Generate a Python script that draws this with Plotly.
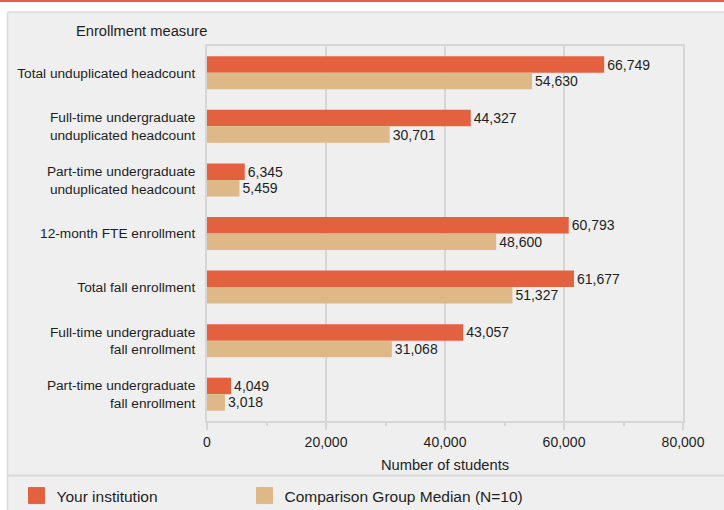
import plotly.graph_objects as go

categories = [
    "Total unduplicated headcount",
    "Full-time undergraduate<br>unduplicated headcount",
    "Part-time undergraduate<br>unduplicated headcount",
    "12-month FTE enrollment",
    "Total fall enrollment",
    "Full-time undergraduate<br>fall enrollment",
    "Part-time undergraduate<br>fall enrollment",
]
your_institution = [66749, 44327, 6345, 60793, 61677, 43057, 4049]
comparison_median = [54630, 30701, 5459, 48600, 51327, 31068, 3018]
series_names = ["Your institution", "Comparison Group Median (N=10)"]
tick_values = [0, 20000, 40000, 60000, 80000]
tick_labels = ["0", "20,000", "40,000", "60,000", "80,000"]

ORANGE = "#E4613F"
TAN = "#DFB887"
BG = "#EFEFEF"
GRID = "#D6D6D6"
TXT = "#1E1E1E"
FONT = "Liberation Sans, Arial, sans-serif"

W, H = 724, 510
L, R, T, B = 207, 41, 46, 89
pw, ph = W - L - R, H - T - B


def px_x(px):
    return (px - L) / pw


def px_y(py):
    return (H - B - py) / ph


fig = go.Figure()
colors = [ORANGE, TAN]
for name, vals, col in [(series_names[0], your_institution, ORANGE),
                        (series_names[1], comparison_median, TAN)]:
    fig.add_trace(go.Bar(
        y=categories, x=vals, name=name, orientation="h",
        marker=dict(color=col, line=dict(width=0)),
        texttemplate="%{x:,}", textposition="outside",
        textfont=dict(size=14, color=TXT, family=FONT),
        cliponaxis=False, showlegend=False,
    ))

# legend entries (square swatches)
for i, (name, col) in enumerate(zip(series_names, colors)):
    fig.add_trace(go.Scatter(
        x=[None], y=[None], mode="markers", name=name,
        marker=dict(symbol="square", size=16, color=col, line=dict(color=col, width=1)),
        legend="legend" if i == 0 else "legend2", hoverinfo="skip",
    ))

legend_common = dict(orientation="h", xanchor="left", yanchor="middle",
                     font=dict(size=15.5, color=TXT, family=FONT),
                     bgcolor="rgba(0,0,0,0)", borderwidth=0)

fig.update_layout(
    width=W, height=H,
    margin=dict(l=L, r=R, t=T, b=B, autoexpand=False),
    paper_bgcolor=BG, plot_bgcolor=BG,
    font=dict(family=FONT, size=14, color=TXT),
    barmode="group", bargap=0.384, bargroupgap=0,
    showlegend=True,
    legend=dict(x=px_x(16.5), y=px_y(496), **legend_common),
    legend2=dict(x=px_x(244.5), y=px_y(496), **legend_common),
    xaxis=dict(range=[0, 80000], tickvals=tick_values, ticktext=tick_labels,
               showgrid=True, gridcolor=GRID, gridwidth=2,
               showline=True, linecolor=GRID, linewidth=2, mirror=True,
               ticks="outside", ticklen=7, tickwidth=2, tickcolor=GRID,
               minor=dict(dtick=10000, tick0=0, ticks="outside", ticklen=3, tickwidth=2, tickcolor=GRID, showgrid=False),
               tickfont=dict(size=14, color=TXT),
               title=dict(text="Number of students", font=dict(size=14.7, color=TXT), standoff=11),
               zeroline=False, fixedrange=True, automargin=False),
    yaxis=dict(autorange="reversed", showgrid=False, showline=True, linecolor=GRID, linewidth=2, mirror=True,
               ticks="", ticklabelstandoff=7, tickfont=dict(size=13.7, color=TXT), fixedrange=True,
               automargin=False),
    annotations=[dict(text="Enrollment measure", x=px_x(74), y=px_y(31), xref="paper", yref="paper",
                      xanchor="left", yanchor="middle", showarrow=False,
                      font=dict(size=14.7, color=TXT))],
    shapes=[
        dict(type="rect", xref="paper", yref="paper", x0=px_x(0), x1=px_x(W), y0=px_y(12), y1=px_y(0),
             fillcolor="white", line=dict(width=0), layer="below"),
        dict(type="rect", xref="paper", yref="paper", x0=px_x(0), x1=px_x(7.5), y0=px_y(H), y1=px_y(0),
             fillcolor="white", line=dict(width=0), layer="below"),
        dict(type="line", xref="paper", yref="paper", x0=px_x(0), x1=px_x(W), y0=px_y(1), y1=px_y(1),
             line=dict(color=ORANGE, width=2)),
        dict(type="line", xref="paper", yref="paper", x0=px_x(7.5), x1=px_x(W), y0=px_y(12), y1=px_y(12),
             line=dict(color="#DADADA", width=1.5)),
        dict(type="line", xref="paper", yref="paper", x0=px_x(7.5), x1=px_x(7.5), y0=px_y(12), y1=px_y(H),
             line=dict(color="#DADADA", width=1.5)),
        dict(type="line", xref="paper", yref="paper", x0=px_x(7.5), x1=px_x(W), y0=px_y(475.5), y1=px_y(475.5),
             line=dict(color="#D8D8D8", width=2)),
    ],
)

fig.write_html("out.html", config={"displayModeBar": False},
               post_script="document.body.style.margin='0';document.body.style.overflow='hidden';")
